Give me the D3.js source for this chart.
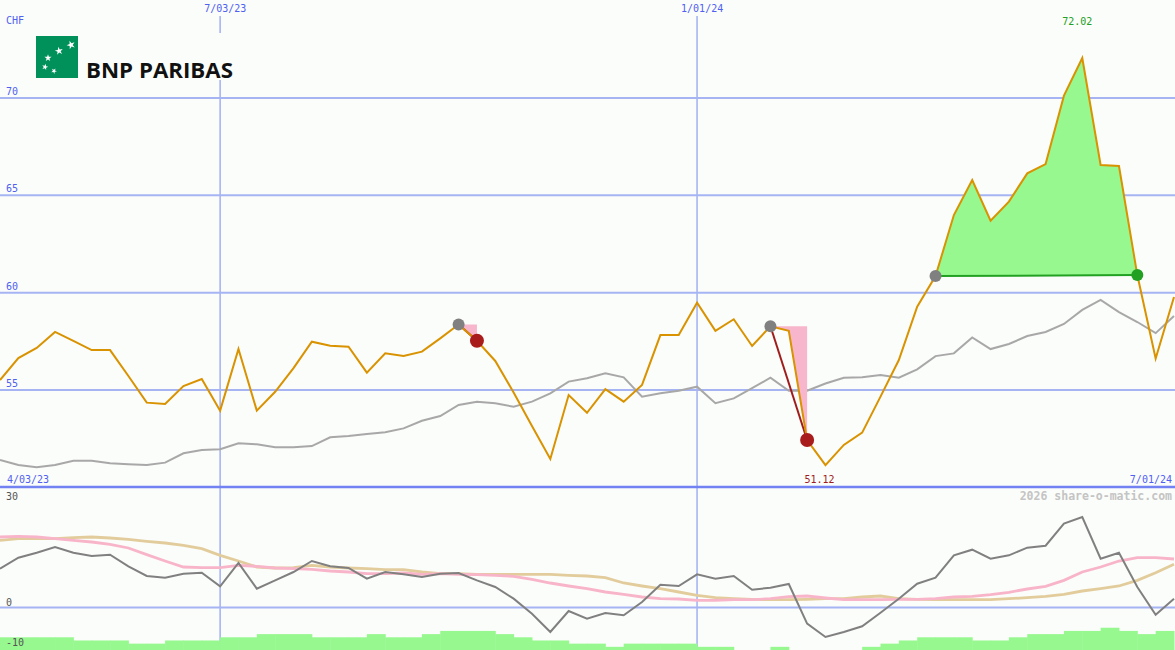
<!DOCTYPE html>
<html><head><meta charset="utf-8">
<script src="https://cdn.jsdelivr.net/npm/d3@7"></script>
<style>
html,body{margin:0;padding:0;background:#fbfdfa;}
svg{display:block;}
text{font-family:"DejaVu Sans Mono",monospace;}
</style></head>
<body>
<svg id="chart" width="1175" height="650"></svg>
<script>
// ---------- data ----------
const startDate = "2023-04-10";
const endDate = "2024-07-01";
const price = [55.49,56.62,57.14,57.96,57.5,57.03,57.03,55.7,54.33,54.26,55.18,55.54,53.92,57.08,53.92,54.89,56.1,57.46,57.25,57.2,55.87,56.86,56.72,56.95,57.63,58.34,57.51,56.47,54.85,53.13,51.44,54.72,53.81,55.02,54.38,55.24,57.8,57.8,59.46,58.02,58.61,57.24,58.25,58.02,52.41,51.12,52.16,52.79,54.64,56.52,59.26,60.83,63.96,65.76,63.67,64.65,66.1,66.58,70.09,72.02,66.53,66.48,60.88,56.6,59.75];
const benchmark = [51.39,51.13,51.01,51.13,51.35,51.35,51.22,51.17,51.13,51.25,51.73,51.9,51.94,52.24,52.19,52.04,52.04,52.1,52.55,52.62,52.72,52.81,53.01,53.4,53.64,54.21,54.38,54.3,54.12,54.38,54.81,55.41,55.58,55.84,55.63,54.64,54.81,54.94,55.15,54.3,54.55,55.07,55.61,54.94,54.94,55.31,55.61,55.63,55.75,55.61,56.04,56.72,56.86,57.68,57.08,57.34,57.75,57.96,58.37,59.09,59.6,58.98,58.47,57.9,58.78];
const oscillator = [9.58,12.33,13.58,15,13.58,12.75,13.08,10.17,7.75,7.33,8.33,8.58,5.17,11,4.58,6.67,8.75,11.5,10.17,9.75,7.08,8.75,8.17,7.5,8.33,8.5,6.67,5,2.08,-1.67,-6.25,-1,-2.92,-1.5,-2.08,1.25,5.58,5.25,8.17,7.08,7.75,4.33,4.83,5.75,-4.17,-7.5,-6.25,-4.83,-1.42,2.08,5.83,7.33,12.92,14.33,12.08,12.92,14.83,15.33,20.83,22.5,12.08,13.58,5,-1.92,2.08];
const signalFast = [17.5,17.67,17.5,17.08,16.67,16.25,15.67,14.75,13.08,11.5,10,9.83,9.83,10.42,10.17,9.75,9.58,9.42,9,8.75,8.33,8.33,8.5,8.17,8.33,8.17,8.08,7.92,7.67,6.92,6,5.25,4.58,3.75,3.17,2.5,2.08,2.0,1.67,1.67,1.83,1.83,2.08,2.58,2.75,2.25,1.83,1.83,1.83,1.92,1.92,2.08,2.5,2.67,3.08,3.67,4.5,5.17,6.67,8.75,10,11.5,12.33,12.33,12];
const signalSlow = [16.67,17.08,17.08,17.08,17.33,17.5,17.25,16.92,16.42,16,15.42,14.58,12.92,11.5,10,9.75,9.83,10.42,10,9.75,9.58,9.33,9.33,8.75,8.33,8.33,8.17,8.17,8.17,8.17,8.17,7.92,7.75,7.33,6,5.25,4.58,3.75,2.92,2.33,2.08,1.92,1.83,1.83,1.92,2.08,2.08,2.5,2.75,2.08,1.92,1.83,1.83,1.83,1.83,2.08,2.33,2.67,3.17,4,4.58,5.25,6.67,8.58,10.67];
const volume = [4,4,4,4,3,3,3,2,2,3,3,3,4,4,5,5,5,4,4,4,5,4,4,5,6,6,6,5,4,3,3,2,2,1,2,2,2,2,1,1,0,0,1,0,0,0,0,1,2,3,4,4,4,3,3,4,5,5,6,6,7,6,5,6];
const trades = [
  {entry:25, exit:26},
  {entry:42, exit:44},
  {entry:51, exit:62}
];
const mainTicks = [55,60,65,70];
const lowTicks = [30,0,-10];
const gridDates = ["2023-07-03","2024-01-01"];
const startLabel = "4/03/23";
const endLabel = "7/01/24";
const currency = "CHF";
const credit = "2026 share-o-matic.com";
const brand = "BNP PARIBAS";

// ---------- setup ----------
const W = 1175, H = 650;
const svg = d3.select("#chart");
const parse = d3.utcParse("%Y-%m-%d");
const dates = d3.utcMonday.range(parse(startDate), d3.utcDay.offset(parse(endDate), 1));
const fmt = d3.utcFormat("%-m/%d/%y");

const x = d3.scaleUtc().domain([parse(startDate), parse(endDate)]).range([0, 1174]);
const yMain = d3.scaleLinear().domain([50, 75]).range([487, 0]);
const yLow = d3.scaleLinear().domain([-10, 30]).range([647, 487]);
const yVol = d3.scaleLinear().domain([0, 10]).range([650, 618.2]);

const BLUE_TXT = "#4f60f2";
const GRID = "#a6b4f4";

svg.append("rect").attr("width", W).attr("height", H).attr("fill", "#fbfdfa");

// vertical grid lines (dates)
const vg = svg.append("g");
gridDates.forEach(ds => {
  const d = parse(ds);
  vg.append("line").attr("x1", x(d)).attr("x2", x(d)).attr("y1", 16).attr("y2", 650)
    .attr("stroke", GRID).attr("stroke-width", 1.6);
  vg.append("text").attr("x", x(d) - 16).attr("y", 12).attr("font-size", 10)
    .attr("fill", BLUE_TXT).text(fmt(d));
});

// main horizontal grid via axis
const gMain = svg.append("g")
  .call(d3.axisRight(yMain).tickValues(mainTicks).tickSize(W).tickFormat(d3.format("d")));
gMain.select(".domain").remove();
gMain.selectAll(".tick line").attr("stroke", GRID).attr("stroke-width", 2);
gMain.selectAll(".tick text").attr("x", 6).attr("dy", -3).attr("text-anchor", "start")
  .attr("font-size", 10).attr("fill", BLUE_TXT).style("font-family", "'DejaVu Sans Mono', monospace");

// lower panel zero line
const gLow = svg.append("g")
  .call(d3.axisRight(yLow).tickValues([0]).tickSize(W).tickFormat(""));
gLow.select(".domain").remove();
gLow.selectAll(".tick line").attr("stroke", GRID).attr("stroke-width", 2);

// panel separator
svg.append("line").attr("x1", 0).attr("x2", W).attr("y1", yMain(50)).attr("y2", yMain(50))
  .attr("stroke", "#7282f2").attr("stroke-width", 2.5);

// volume bars
svg.append("g").selectAll("rect").data(volume).join("rect")
  .attr("x", (d, i) => x(dates[i]))
  .attr("width", (d, i) => x(dates[i + 1]) - x(dates[i]) + 0.5)
  .attr("y", d => yVol(d))
  .attr("height", d => yVol(0) - yVol(d))
  .attr("fill", "#98f890");

// lower panel lines
const lineLow = d3.line().x((d, i) => x(dates[i])).y(d => yLow(d));
svg.append("path").datum(signalSlow).attr("d", lineLow).attr("fill", "none")
  .attr("stroke", "#e2cc9c").attr("stroke-width", 2.8);
svg.append("path").datum(signalFast).attr("d", lineLow).attr("fill", "none")
  .attr("stroke", "#f8b4c8").attr("stroke-width", 2.8);
svg.append("path").datum(oscillator).attr("d", lineLow).attr("fill", "none")
  .attr("stroke", "#808080").attr("stroke-width", 2);

// lower labels
lowTicks.forEach(v => {
  svg.append("text").attr("x", 6).attr("y", yLow(v) + (v === 30 ? 12.5 : -1.5))
    .attr("font-size", 10).attr("fill", "#555").text(v);
});

// benchmark line
const lineMain = d3.line().x((d, i) => x(dates[i])).y(d => yMain(d));
svg.append("path").datum(benchmark).attr("d", lineMain).attr("fill", "none")
  .attr("stroke", "#a8a8a8").attr("stroke-width", 2);

// trade fills and trade lines (beneath price)
trades.forEach(t => {
  const lvl = price[t.entry];
  const profit = price[t.exit] > lvl;
  const idx = d3.range(t.entry, t.exit + 1);
  const area = d3.area().x(i => x(dates[i])).y0(yMain(lvl)).y1(i => yMain(price[i]));
  svg.append("path").datum(idx).attr("d", area)
    .attr("fill", profit ? "#98f890" : "#f8b6cc");
});
trades.forEach(t => {
  const profit = price[t.exit] > price[t.entry];
  svg.append("line")
    .attr("x1", x(dates[t.entry])).attr("y1", yMain(price[t.entry]))
    .attr("x2", x(dates[t.exit])).attr("y2", yMain(price[t.exit]))
    .attr("stroke", profit ? "#22a022" : "#a01c1c").attr("stroke-width", 2);
});

// price line
svg.append("path").datum(price).attr("d", lineMain).attr("fill", "none")
  .attr("stroke", "#d99200").attr("stroke-width", 2);

// dots
trades.forEach(t => {
  const profit = price[t.exit] > price[t.entry];
  svg.append("circle").attr("cx", x(dates[t.entry])).attr("cy", yMain(price[t.entry]))
    .attr("r", 6).attr("fill", "#808080");
  svg.append("circle").attr("cx", x(dates[t.exit])).attr("cy", yMain(price[t.exit]))
    .attr("r", profit ? 6 : 7).attr("fill", profit ? "#22a022" : "#a81c1c");
});

// min / max labels
const iMax = d3.maxIndex(price), iMin = d3.minIndex(price);
svg.append("text").attr("x", x(dates[iMax]) - 20).attr("y", 25).attr("font-size", 10)
  .attr("fill", "#22a022").text(price[iMax].toFixed(2));
svg.append("text").attr("x", x(dates[iMin]) - 21).attr("y", 483).attr("font-size", 10)
  .attr("fill", "#a01c1c").text(price[iMin].toFixed(2));

// axis corner labels
svg.append("text").attr("x", 6).attr("y", 24).attr("font-size", 10).attr("fill", BLUE_TXT).text(currency);
svg.append("text").attr("x", 7).attr("y", 482.5).attr("font-size", 10).attr("fill", BLUE_TXT).text(startLabel);
svg.append("text").attr("x", 1172).attr("y", 482.5).attr("text-anchor", "end").attr("font-size", 10)
  .attr("fill", BLUE_TXT).text(endLabel);
svg.append("text").attr("x", 1172).attr("y", 500).attr("text-anchor", "end").attr("font-size", 11.5)
  .attr("font-weight", "bold").attr("fill", "#c4c4c4").text(credit);

// logo
const logo = svg.append("g");
logo.append("rect").attr("x", 30).attr("y", 33).attr("width", 208).attr("height", 47).attr("fill", "#fbfdfa");
logo.append("rect").attr("x", 36).attr("y", 36).attr("width", 42).attr("height", 42).attr("fill", "#00915a");
const stars = [[71, 45, 22, -20], [59, 51, 20, -10], [48, 58, 16, 0], [45, 67, 12, 15], [54, 71, 10, 30]];
stars.forEach(s => {
  logo.append("path").attr("d", d3.symbol(d3.symbolStar, s[2])())
    .attr("transform", `translate(${s[0]},${s[1]}) rotate(${s[3]})`).attr("fill", "#fff");
});
logo.append("text").attr("x", 86).attr("y", 78)
  .style("font-family", "'Open Sans', 'Liberation Sans', Arial, sans-serif")
  .attr("font-weight", "bold").attr("font-size", 21).attr("fill", "#111")
  .attr("textLength", 147).attr("lengthAdjust", "spacingAndGlyphs").text(brand);
</script>
</body></html>
